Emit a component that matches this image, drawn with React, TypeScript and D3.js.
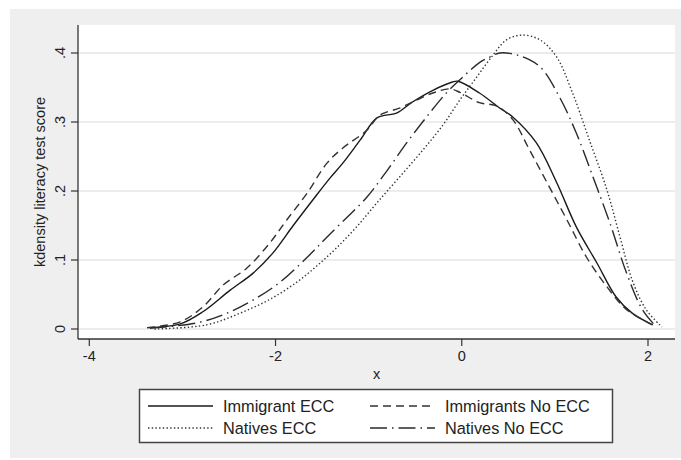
import React, { useEffect, useRef } from "react";
import * as d3 from "d3";

// kernel density curves
const immEccX = [-3.38, -3.03, -2.78, -2.49, -2.24, -2.03, -1.81, -1.6, -1.42, -1.28, -1.09, -0.91, -0.7, -0.53, -0.31, -0.1, -0.04, 0.19, 0.41, 0.55, 0.8, 1.02, 1.23, 1.45, 1.66, 1.83, 2.05];
const immEccY = [0.002, 0.007, 0.025, 0.056, 0.081, 0.11, 0.15, 0.187, 0.218, 0.24, 0.274, 0.306, 0.313, 0.329, 0.346, 0.358, 0.359, 0.342, 0.32, 0.307, 0.27, 0.212, 0.148, 0.096, 0.046, 0.023, 0.006];

const immNoX = [-3.38, -3.03, -2.78, -2.56, -2.31, -2.06, -1.88, -1.66, -1.45, -1.28, -1.02, -0.88, -0.67, -0.48, -0.31, -0.13, -0.02, 0.19, 0.38, 0.55, 0.73, 0.94, 1.13, 1.34, 1.56, 1.77, 2.05];
const immNoY = [0.002, 0.01, 0.032, 0.064, 0.088, 0.125, 0.158, 0.197, 0.24, 0.262, 0.288, 0.31, 0.32, 0.332, 0.342, 0.348, 0.343, 0.328, 0.323, 0.303, 0.259, 0.206, 0.158, 0.104, 0.061, 0.028, 0.006];

const natEccX = [-3.3, -2.74, -2.38, -2.06, -1.77, -1.56, -1.35, -1.13, -0.91, -0.67, -0.42, -0.2, -0.02, 0.16, 0.33, 0.48, 0.65, 0.84, 1.02, 1.19, 1.37, 1.56, 1.7, 1.83, 1.98, 2.15];
const natEccY = [0.0, 0.006, 0.023, 0.043, 0.068, 0.091, 0.117, 0.148, 0.183, 0.22, 0.259, 0.296, 0.332, 0.365, 0.396, 0.419, 0.426, 0.419, 0.394, 0.342, 0.274, 0.201, 0.133, 0.071, 0.028, 0.003];

const natNoX = [-3.35, -2.84, -2.52, -2.24, -1.95, -1.66, -1.42, -1.02, -0.8, -0.59, -0.38, -0.16, 0.01, 0.19, 0.3, 0.41, 0.62, 0.84, 1.05, 1.23, 1.41, 1.59, 1.77, 1.94, 2.07];
const natNoY = [0.001, 0.009, 0.023, 0.042, 0.068, 0.104, 0.137, 0.191, 0.23, 0.27, 0.307, 0.343, 0.365, 0.386, 0.394, 0.4, 0.396, 0.38, 0.336, 0.284, 0.22, 0.154, 0.081, 0.028, 0.006];

const xTicks = [-4, -2, 0, 2];
const yTicks = [0, 0.1, 0.2, 0.3, 0.4];
const yTickLabels = ["0", ".1", ".2", ".3", ".4"];

const seriesNames = ["Immigrant ECC", "Immigrants No ECC", "Natives ECC", "Natives No ECC"];

const FONT = "'Liberation Sans', Arial, Helvetica, sans-serif";

const App = () => {
  const ref = useRef(null);

  useEffect(() => {
    const W = 681;
    const H = 460;
    const plot = { left: 78, top: 25, right: 675, bottom: 339 };

    const svg = d3.select(ref.current);
    svg.selectAll("*").remove();

    // stata-ish outer background
    svg.append("rect").attr("width", W).attr("height", H).attr("fill", "#ffffff");
    svg.append("rect").attr("x", 10).attr("y", 9).attr("width", 671).attr("height", 449).attr("fill", "#efefef");
    svg.append("rect")
      .attr("x", plot.left).attr("y", plot.top)
      .attr("width", plot.right - plot.left).attr("height", plot.bottom - plot.top)
      .attr("fill", "#ffffff");

    const x = d3.scaleLinear().domain([-4, 2]).range([89.3, 648]);
    const y = d3.scaleLinear().domain([0, 0.4]).range([329, 53]);

    // gridlines
    svg.append("g")
      .selectAll("line")
      .data(yTicks)
      .join("line")
      .attr("x1", plot.left).attr("x2", plot.right)
      .attr("y1", d => y(d)).attr("y2", d => y(d))
      .attr("stroke", "#e6e6e6")
      .attr("stroke-width", 1.5);

    const series = [
      { name: seriesNames[0], xs: immEccX, ys: immEccY, dash: null, color: "#1a1a1a" },
      { name: seriesNames[1], xs: immNoX, ys: immNoY, dash: "8,5", color: "#333" },
      { name: seriesNames[2], xs: natEccX, ys: natEccY, dash: "1.4,2.3", color: "#333" },
      { name: seriesNames[3], xs: natNoX, ys: natNoY, dash: "17,5,1.5,5", color: "#2a2a2a" }
    ];

    const line = d3.line()
      .x(d => x(d[0]))
      .y(d => y(d[1]))
      .curve(d3.curveCatmullRom.alpha(0.5));

    svg.append("g")
      .attr("fill", "none")
      .selectAll("path")
      .data(series)
      .join("path")
      .attr("d", s => line(s.xs.map((v, i) => [v, s.ys[i]])))
      .attr("stroke", s => s.color)
      .attr("stroke-width", 1.4)
      .attr("stroke-dasharray", s => s.dash);

    // axes
    const axisColor = "#333";
    svg.append("line")
      .attr("x1", plot.left).attr("x2", plot.left)
      .attr("y1", plot.top).attr("y2", plot.bottom)
      .attr("stroke", axisColor).attr("stroke-width", 1.3);
    svg.append("line")
      .attr("x1", plot.left).attr("x2", plot.right)
      .attr("y1", plot.bottom).attr("y2", plot.bottom)
      .attr("stroke", axisColor).attr("stroke-width", 1.3);

    svg.append("g")
      .selectAll("line")
      .data(yTicks)
      .join("line")
      .attr("x1", plot.left - 7).attr("x2", plot.left)
      .attr("y1", d => y(d)).attr("y2", d => y(d))
      .attr("stroke", axisColor).attr("stroke-width", 1.2);

    svg.append("g")
      .selectAll("text")
      .data(yTicks)
      .join("text")
      .attr("transform", d => `translate(65,${y(d)}) rotate(-90)`)
      .attr("text-anchor", "middle")
      .style("font", `14.5px ${FONT}`)
      .attr("fill", "#222")
      .text((d, i) => yTickLabels[i]);

    svg.append("g")
      .selectAll("line")
      .data(xTicks)
      .join("line")
      .attr("x1", d => x(d)).attr("x2", d => x(d))
      .attr("y1", plot.bottom).attr("y2", plot.bottom + 7)
      .attr("stroke", axisColor).attr("stroke-width", 1.2);

    svg.append("g")
      .selectAll("text")
      .data(xTicks)
      .join("text")
      .attr("x", d => x(d))
      .attr("y", 361)
      .attr("text-anchor", "middle")
      .style("font", `14.5px ${FONT}`)
      .attr("fill", "#222")
      .text(d => d);

    svg.append("text")
      .attr("x", (plot.left + plot.right) / 2)
      .attr("y", 379)
      .attr("text-anchor", "middle")
      .style("font", `14.5px ${FONT}`)
      .attr("fill", "#222")
      .text("x");

    svg.append("text")
      .attr("transform", `translate(45,${(plot.top + plot.bottom) / 2}) rotate(-90)`)
      .attr("text-anchor", "middle")
      .style("font", `14.5px ${FONT}`)
      .attr("fill", "#222")
      .text("kdensity literacy test score");

    // legend
    const lg = svg.append("g");
    lg.append("rect")
      .attr("x", 139.5).attr("y", 389.5)
      .attr("width", 473).attr("height", 53)
      .attr("fill", "#fff")
      .attr("stroke", "#444")
      .attr("stroke-width", 1.5);

    const slots = [
      { x: 148, y: 406 },
      { x: 370, y: 406 },
      { x: 148, y: 428 },
      { x: 370, y: 428 }
    ];

    series.forEach((s, i) => {
      const p = slots[i];
      lg.append("line")
        .attr("x1", p.x).attr("x2", p.x + 65)
        .attr("y1", p.y).attr("y2", p.y)
        .attr("stroke", s.color)
        .attr("stroke-width", 1.3)
        .attr("stroke-dasharray", s.dash);
      lg.append("text")
        .attr("x", p.x + 75)
        .attr("y", p.y)
        .attr("dy", "0.36em")
        .style("font", `16.3px ${FONT}`)
        .attr("fill", "#222")
        .text(s.name);
    });
  }, []);

  return (
    <svg
      ref={ref}
      width={681}
      height={460}
      style={{ position: "absolute", left: 0, top: 0, display: "block" }}
    />
  );
};

export default App;
